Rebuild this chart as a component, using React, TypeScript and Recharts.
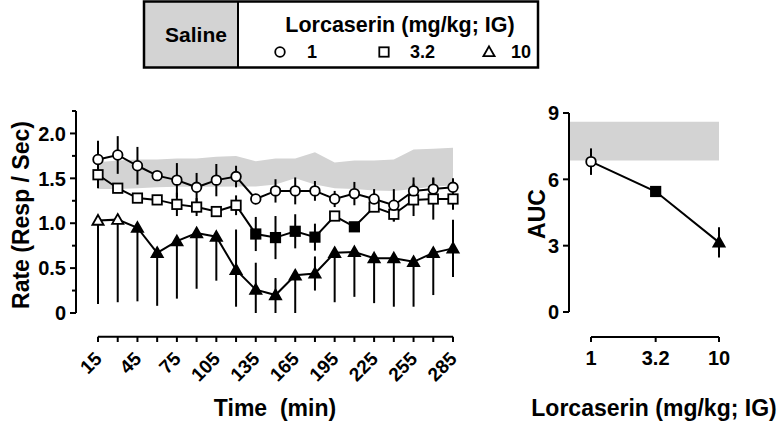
import React from 'react';
import { ComposedChart, Line, Area, XAxis, YAxis, ErrorBar, ReferenceLine, ReferenceArea } from 'recharts';

// ---------- Left panel data (time course) ----------
const times = [15, 30, 45, 60, 75, 90, 105, 120, 135, 150, 165, 180, 195, 210, 225, 240, 255, 270, 285];
const timeTicks = [15, 30, 45, 60, 75, 90, 105, 120, 135, 150, 165, 180, 195, 210, 225, 240, 255, 270, 285];
const rateTicks = [0, 0.25, 0.5, 0.75, 1.0, 1.25, 1.5, 1.75, 2.0, 2.25];

const salineLow = [1.38, 1.38, 1.39, 1.40, 1.405, 1.405, 1.405, 1.41, 1.41, 1.43, 1.50, 1.43, 1.39, 1.38, 1.365, 1.36, 1.38, 1.41, 1.42];
const salineHigh = [1.68, 1.70, 1.71, 1.71, 1.72, 1.72, 1.74, 1.75, 1.69, 1.72, 1.72, 1.79, 1.675, 1.70, 1.70, 1.71, 1.82, 1.83, 1.84];

const dose1Mean = [1.71, 1.76, 1.64, 1.53, 1.48, 1.40, 1.48, 1.52, 1.27, 1.36, 1.36, 1.36, 1.27, 1.33, 1.27, 1.20, 1.36, 1.38, 1.40];
const dose1Err = [0.21, 0.21, 0.21, 0.04, 0.19, 0.16, 0.18, 0.12, 0.03, 0.13, 0.15, 0.11, 0.09, 0.13, 0.11, 0.18, 0.15, 0.13, 0.10];
const dose1Filled = [false, false, false, false, false, false, false, false, false, false, false, false, false, false, false, false, false, false, false];

const dose32Mean = [1.54, 1.39, 1.28, 1.26, 1.21, 1.18, 1.13, 1.20, 0.88, 0.84, 0.91, 0.845, 1.08, 0.96, 1.18, 1.10, 1.26, 1.27, 1.27];
const dose32Err = [0.15, 0.05, 0.04, 0.04, 0.13, 0.10, 0.04, 0.11, 0.19, 0.24, 0.19, 0.15, 0.04, 0.04, 0.05, 0.08, 0.18, 0.23, 0.12];
const dose32Filled = [false, false, false, false, false, false, false, false, true, true, true, true, false, true, false, false, false, false, false];

const dose10Mean = [1.03, 1.04, 0.95, 0.67, 0.80, 0.89, 0.85, 0.48, 0.26, 0.20, 0.42, 0.44, 0.67, 0.68, 0.61, 0.61, 0.57, 0.67, 0.72];
const dose10ErrDown = [0.93, 0.92, 0.82, 0.59, 0.64, 0.62, 0.49, 0.41, 0.26, 0.20, 0.42, 0.19, 0.55, 0.50, 0.50, 0.54, 0.50, 0.47, 0.32];
const dose10ErrUp = [0, 0, 0, 0, 0, 0, 0, 0.45, 0.30, 0.19, 0, 0.19, 0, 0, 0, 0, 0, 0, 0.32];
const dose10Filled = [false, false, true, true, true, true, true, true, true, true, true, true, true, true, true, true, true, true, true];

// ---------- Right panel data (AUC) ----------
const doses = [1, 3.2, 10];
const doseLabels = ['1', '3.2', '10'];
const aucMean = [6.8, 5.45, 3.15];
const aucErr = [0.6, 0.12, 0.68];
const aucFilled = [false, true, true];
const aucShapes = ['circle', 'square', 'triangle'];
const aucTicks = [0, 3, 6, 9];
const doseDomain = [0.673, 10];
const salineAucLow = 6.85;
const salineAucHigh = 8.6;

const timeTable = times.map((t, i) => ({
  t,
  band: [salineLow[i], salineHigh[i]],
  d1: dose1Mean[i],
  d1e: dose1Err[i],
  d32: dose32Mean[i],
  d32e: dose32Err[i],
  d10: dose10Mean[i],
  d10e: [dose10ErrDown[i], dose10ErrUp[i]],
}));

const aucTable = doses.map((d, i) => ({ d, auc: aucMean[i], err: aucErr[i] }));

const FONT = '"Liberation Sans", Arial, Helvetica, sans-serif';

function Marker({ shape, cx, cy, filled, size = 1 }: { shape: string; cx: number; cy: number; filled: boolean; size?: number }) {
  const fill = filled ? '#000' : '#fff';
  const sw = 1.8;
  if (shape === 'circle') {
    return <circle cx={cx} cy={cy} r={4.8 * size} fill={fill} stroke="#000" strokeWidth={sw} />;
  }
  if (shape === 'square') {
    const h = 4.7 * size;
    return <rect x={cx - h} y={cy - h} width={2 * h} height={2 * h} fill={fill} stroke="#000" strokeWidth={sw} />;
  }
  const h = 5.6 * size;
  return (
    <polygon
      points={`${cx},${cy - h} ${cx + h},${cy + h * 0.75} ${cx - h},${cy + h * 0.75}`}
      fill={fill}
      stroke="#000"
      strokeWidth={sw}
      strokeLinejoin="miter"
    />
  );
}

const makeDot = (shape: string, filledArr: boolean[]) => (props: any) => {
  const { cx, cy, index } = props;
  if (cx == null || cy == null) return <g key={`e${index}`} />;
  return (
    <g key={`d${index}`}>
      <Marker shape={shape} cx={cx} cy={cy} filled={filledArr[index]} />
    </g>
  );
};

const aucDot = (props: any) => {
  const { cx, cy, index } = props;
  if (cx == null || cy == null) return <g key={`e${index}`} />;
  return (
    <g key={`a${index}`}>
      <Marker shape={aucShapes[index]} cx={cx} cy={cy} filled={aucFilled[index]} />
    </g>
  );
};

const LeftYTick = (props: any) => {
  const { x, y, payload } = props;
  const v = payload.value as number;
  const major = Math.abs(v * 2 - Math.round(v * 2)) < 1e-6;
  return (
    <g>
      <line x1={x - (major ? 6 : 4)} x2={x} y1={y} y2={y} stroke="#000" strokeWidth={2} />
      {major && (
        <text x={x - 10} y={y} dy="0.36em" textAnchor="end" fontFamily={FONT} fontWeight="bold" fontSize={20} fill="#000">
          {v === 0 ? '0' : v.toFixed(1)}
        </text>
      )}
    </g>
  );
};

const LeftXTick = (props: any) => {
  const { x, y, payload } = props;
  const v = payload.value as number;
  const labeled = (v - 15) % 30 === 0;
  return (
    <g>
      <line x1={x} x2={x} y1={y + 23.7} y2={y + 29} stroke="#000" strokeWidth={2} />
      {labeled && (
        <text
          transform={`translate(${x + 5},${y + 47}) rotate(-45)`}
          textAnchor="end"
          fontFamily={FONT}
          fontWeight="bold"
          fontSize={19}
          fill="#000"
        >
          {v}
        </text>
      )}
    </g>
  );
};

const RightYTick = (props: any) => {
  const { x, y, payload } = props;
  const v = payload.value as number;
  return (
    <g>
      <line x1={x - 6} x2={x} y1={y} y2={y} stroke="#000" strokeWidth={2} />
      <text x={x - 10} y={y} dy="0.36em" textAnchor="end" fontFamily={FONT} fontWeight="bold" fontSize={20} fill="#000">
        {v}
      </text>
    </g>
  );
};

const RightXTick = (props: any) => {
  const { x, y, payload, index } = props;
  return (
    <g>
      <line x1={x} x2={x} y1={y + 25} y2={y + 30} stroke="#000" strokeWidth={2} />
      <text x={x} y={y + 53} textAnchor="middle" fontFamily={FONT} fontWeight="bold" fontSize={20} fill="#000">
        {doseLabels[index] ?? String(payload.value)}
      </text>
    </g>
  );
};

export default function App() {
  return (
    <div style={{ position: 'absolute', left: 0, top: 0, width: 780, height: 422, background: '#fff', overflow: 'hidden' }}>
      <div style={{ position: 'absolute', left: 0, top: 0 }}>
        <ComposedChart width={480} height={422} data={timeTable} margin={{ top: 111, right: 27, bottom: 9, left: 16 }}>
          <XAxis
            dataKey="t"
            type="number"
            domain={[15, 285]}
            ticks={timeTicks}
            interval={0}
            padding={{ left: 22, right: 0 }}
            axisLine={false}
            tickLine={false}
            tickSize={0}
            tickMargin={0}
            height={100}
            tick={<LeftXTick />}
          />
          <YAxis
            type="number"
            domain={[0, 2.25]}
            ticks={rateTicks}
            interval={0}
            width={60}
            axisLine={{ stroke: '#000', strokeWidth: 2 }}
            tickLine={false}
            tickSize={0}
            tickMargin={0}
            tick={<LeftYTick />}
          />
          <Area
            dataKey="band"
            type="linear"
            fill="#d3d3d3"
            fillOpacity={1}
            stroke="none"
            dot={false}
            activeDot={false}
            isAnimationActive={false}
          />
          <ReferenceLine
            segment={[{ x: 15, y: -0.264 }, { x: 285, y: -0.264 }]}
            stroke="#000"
            strokeWidth={2}
            ifOverflow="visible"
          />
          <Line dataKey="d10" type="linear" stroke="#000" strokeWidth={2} dot={makeDot('triangle', dose10Filled)} activeDot={false} isAnimationActive={false}>
            <ErrorBar dataKey="d10e" direction="y" width={0} stroke="#000" strokeWidth={2} />
          </Line>
          <Line dataKey="d32" type="linear" stroke="#000" strokeWidth={2} dot={makeDot('square', dose32Filled)} activeDot={false} isAnimationActive={false}>
            <ErrorBar dataKey="d32e" direction="y" width={0} stroke="#000" strokeWidth={2} />
          </Line>
          <Line dataKey="d1" type="linear" stroke="#000" strokeWidth={2} dot={makeDot('circle', dose1Filled)} activeDot={false} isAnimationActive={false}>
            <ErrorBar dataKey="d1e" direction="y" width={0} stroke="#000" strokeWidth={2} />
          </Line>
        </ComposedChart>
      </div>

      <div style={{ position: 'absolute', left: 480, top: 0 }}>
        <ComposedChart width={300} height={422} data={aucTable} margin={{ top: 113, right: 61, bottom: 10, left: 29 }}>
          <XAxis
            dataKey="d"
            type="number"
            scale="log"
            domain={doseDomain}
            ticks={doses}
            interval={0}
            axisLine={false}
            tickLine={false}
            tickSize={0}
            tickMargin={0}
            height={100}
            tick={<RightXTick />}
          />
          <YAxis
            type="number"
            domain={[0, 9]}
            ticks={aucTicks}
            interval={0}
            width={60}
            axisLine={{ stroke: '#000', strokeWidth: 2 }}
            tickLine={false}
            tickSize={0}
            tickMargin={0}
            tick={<RightYTick />}
          />
          <ReferenceArea y1={salineAucLow} y2={salineAucHigh} fill="#d3d3d3" fillOpacity={1} stroke="none" ifOverflow="visible" />
          <ReferenceLine
            segment={[{ x: 1, y: -1.13 }, { x: 10, y: -1.13 }]}
            stroke="#000"
            strokeWidth={2}
            ifOverflow="visible"
          />
          <Line dataKey="auc" type="linear" stroke="#000" strokeWidth={2} dot={aucDot} activeDot={false} isAnimationActive={false}>
            <ErrorBar dataKey="err" direction="y" width={0} stroke="#000" strokeWidth={2} />
          </Line>
        </ComposedChart>
      </div>

      <svg width={780} height={422} style={{ position: 'absolute', left: 0, top: 0, pointerEvents: 'none' }}>
        {/* Legend box */}
        <rect x={144} y={1.5} width={94} height={66} fill="#d3d3d3" />
        <rect x={144} y={1.5} width={394} height={66} fill="none" stroke="#000" strokeWidth={2.5} />
        <line x1={238} x2={238} y1={1.5} y2={67.5} stroke="#000" strokeWidth={2} />
        <text x={196} y={42} textAnchor="middle" fontFamily={FONT} fontWeight="bold" fontSize={21} fill="#000">Saline</text>
        <text x={400} y={32} textAnchor="middle" fontFamily={FONT} fontWeight="bold" fontSize={21.5} fill="#000">Lorcaserin (mg/kg; IG)</text>
        <Marker shape="circle" cx={280} cy={52} filled={false} />
        <text x={307} y={58} fontFamily={FONT} fontWeight="bold" fontSize={18} fill="#000">1</text>
        <Marker shape="square" cx={384} cy={52} filled={false} />
        <text x={410} y={58} fontFamily={FONT} fontWeight="bold" fontSize={18} fill="#000">3.2</text>
        <Marker shape="triangle" cx={489} cy={52} filled={false} />
        <text x={511} y={58} fontFamily={FONT} fontWeight="bold" fontSize={18} fill="#000">10</text>

        {/* Axis titles */}
        <text transform="translate(29,215) rotate(-90)" textAnchor="middle" fontFamily={FONT} fontWeight="bold" fontSize={23} fill="#000">Rate (Resp / Sec)</text>
        <text x={275} y={416} textAnchor="middle" fontFamily={FONT} fontWeight="bold" fontSize={23} fill="#000" style={{ whiteSpace: 'pre' }}>{'Time  (min)'}</text>
        <text transform="translate(545,214) rotate(-90)" textAnchor="middle" fontFamily={FONT} fontWeight="bold" fontSize={23} fill="#000">AUC</text>
        <text x={654} y={416} textAnchor="middle" fontFamily={FONT} fontWeight="bold" fontSize={23} fill="#000">Lorcaserin (mg/kg; IG)</text>
      </svg>
    </div>
  );
}
